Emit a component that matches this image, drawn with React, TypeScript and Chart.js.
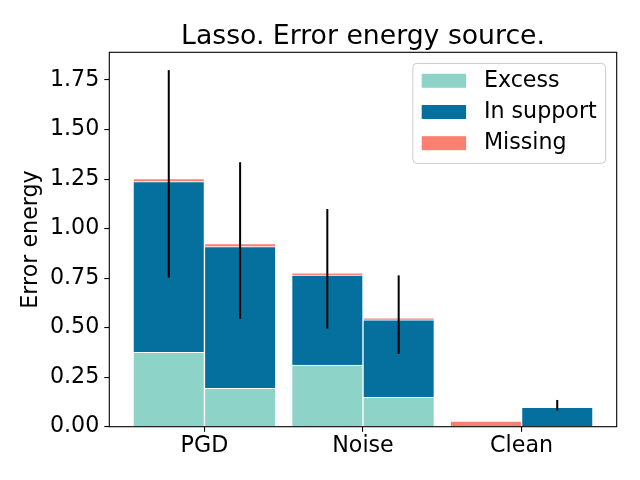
import { useEffect, useRef } from 'react';
import { Chart, registerables } from 'chart.js';

Chart.register(...registerables);

const categories = ['PGD', 'Noise', 'Clean'];
// two bars per category: PGD left, PGD right, Noise left, Noise right, Clean left, Clean right
const excess = [0.376, 0.194, 0.311, 0.148, 0, 0];
const inSupport = [0.861, 0.715, 0.455, 0.391, 0, 0.098];
const missing = [0.015, 0.015, 0.011, 0.011, 0.028, 0];
const errLow = [0.752, 0.545, 0.495, 0.368, null, 0.081];
const errHigh = [1.8, 1.335, 1.099, 0.764, null, 0.135];
const yTicks = [0, 0.25, 0.5, 0.75, 1.0, 1.25, 1.5, 1.75];

const seriesNames = ['Excess', 'In support', 'Missing'];
const seriesColors = ['#8dd3c7', '#05709d', '#fb8072'];

const titleText = 'Lasso. Error energy source.';
const yLabel = 'Error energy';

const FONT = 'DejaVu Sans';
const FS = 22.2;
const HALF = 0.225; // half bar width, in category units

const barX = (i: number) => Math.floor(i / 2) + (i % 2 === 0 ? -HALF : HALF);

const decor = {
  id: 'decor',
  afterDatasetsDraw(chart: any) {
    const { ctx, chartArea: a, scales } = chart;
    const x = scales.x;
    const y = scales.y;
    ctx.save();

    // error bars
    ctx.strokeStyle = '#000';
    ctx.lineWidth = 2;
    errLow.forEach((lo, i) => {
      const hi = errHigh[i];
      if (lo == null || hi == null) return;
      const px = x.getPixelForValue(barX(i));
      ctx.beginPath();
      ctx.moveTo(px, y.getPixelForValue(lo));
      ctx.lineTo(px, y.getPixelForValue(hi));
      ctx.stroke();
    });

    // axes frame
    ctx.lineWidth = 1.1;
    ctx.strokeRect(a.left, a.top, a.right - a.left, a.bottom - a.top);

    // title
    ctx.fillStyle = '#000';
    ctx.font = `26.7px "${FONT}"`;
    ctx.textAlign = 'center';
    ctx.textBaseline = 'alphabetic';
    ctx.fillText(titleText, (a.left + a.right) / 2, a.top - 8.3);

    // legend, upper right
    ctx.font = `${FS}px "${FONT}"`;
    const pad = 0.4 * FS;
    const handleLen = 2 * FS;
    const handleGap = 0.8 * FS;
    const pitch = 31.2;
    const ds = chart.data.datasets;
    const textW = Math.max(...ds.map((d: any) => ctx.measureText(d.label).width));
    const w = pad * 2 + handleLen + handleGap + textW;
    const h = pad * 2 + 20 * ds.length + 0.5 * FS * (ds.length - 1);
    const right = a.right - 0.5 * FS;
    const top = a.top + 0.5 * FS;
    const left = right - w;
    ctx.beginPath();
    ctx.roundRect(left, top, w, h, 4);
    ctx.fillStyle = 'rgba(255,255,255,0.8)';
    ctx.fill();
    ctx.strokeStyle = '#cccccc';
    ctx.lineWidth = 1;
    ctx.stroke();
    ds.forEach((d: any, i: number) => {
      const cy = top + pad + 8.5 + i * pitch;
      ctx.fillStyle = d.backgroundColor;
      ctx.fillRect(left + pad, cy - 7, handleLen, 14);
      ctx.fillStyle = '#000';
      ctx.textAlign = 'left';
      ctx.textBaseline = 'middle';
      ctx.fillText(d.label, left + pad + handleLen + handleGap, cy);
    });

    ctx.restore();
  },
};

export default function App() {
  const canvasRef = useRef<HTMLCanvasElement>(null);

  useEffect(() => {
    if (!canvasRef.current) return;
    const values = [excess, inSupport, missing];

    const chart = new Chart(canvasRef.current, {
      type: 'bar',
      data: {
        datasets: seriesNames.map((name, s) => ({
          label: name,
          data: values[s].map((v, i) => ({ x: barX(i), y: v })),
          backgroundColor: seriesColors[s],
          borderColor: '#ffffff',
          borderWidth: 1,
          stack: 'all',
          categoryPercentage: 1,
          barPercentage: 1,
        })),
      },
      options: {
        responsive: false,
        animation: false,
        layout: { padding: { top: 52.3, right: 23.3, bottom: 0, left: 0 } },
        plugins: {
          legend: { display: false },
          title: { display: false },
          tooltip: { enabled: false },
        },
        scales: {
          x: {
            type: 'linear',
            min: -0.6,
            max: 2.6,
            stacked: true,
            offset: false,
            border: { display: false },
            grid: {
              offset: false,
              drawOnChartArea: false,
              drawTicks: true,
              tickLength: 5,
              color: '#000',
              lineWidth: 1.1,
            },
            ticks: {
              autoSkip: false,
              maxRotation: 0,
              padding: 1,
              color: '#000',
              font: { family: FONT, size: FS },
              callback: (v: any) => categories[v as number] ?? '',
            },
            afterBuildTicks: (axis: any) => {
              axis.ticks = categories.map((_, i) => ({ value: i }));
            },
            afterFit: (axis: any) => {
              axis.height = 480 - 426.7;
            },
          },
          y: {
            type: 'linear',
            min: 0,
            max: 1.89,
            stacked: true,
            border: { display: false },
            grid: {
              drawOnChartArea: false,
              drawTicks: true,
              tickLength: 5,
              color: '#000',
              lineWidth: 1.1,
            },
            ticks: {
              padding: 5,
              color: '#000',
              font: { family: FONT, size: FS },
              callback: (v: any) => Number(v).toFixed(2),
            },
            afterBuildTicks: (axis: any) => {
              axis.ticks = yTicks.map((v) => ({ value: v }));
            },
            afterFit: (axis: any) => {
              axis.width = 109.3;
            },
            title: {
              display: true,
              text: yLabel,
              color: '#000',
              font: { family: FONT, size: FS },
              padding: { top: 18.3, bottom: 0 },
            },
          },
        },
      },
      plugins: [decor],
    });

    return () => chart.destroy();
  }, []);

  return (
    <div style={{ position: 'absolute', left: 0, top: 0, width: 640, height: 480, background: '#fff' }}>
      <canvas ref={canvasRef} width={640} height={480} style={{ display: 'block' }} />
    </div>
  );
}
